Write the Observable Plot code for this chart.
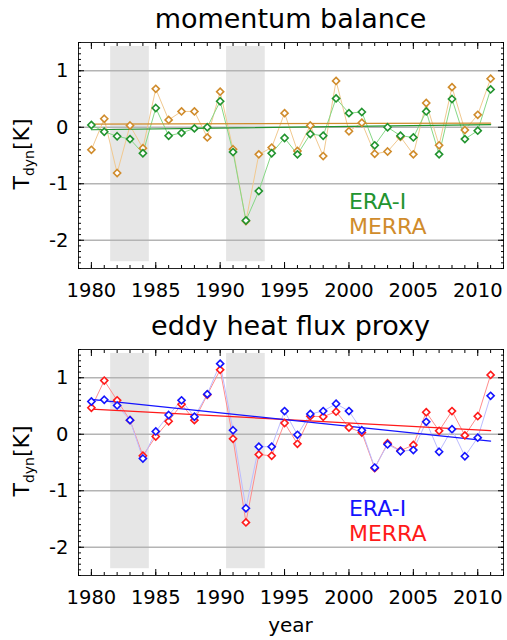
<!DOCTYPE html>
<html>
<head>
<meta charset="utf-8">
<script src="https://cdn.jsdelivr.net/npm/d3@7"></script>
<script src="https://cdn.jsdelivr.net/npm/@observablehq/plot@0.6"></script>
<style>
  html, body { margin: 0; padding: 0; background: #fff; }
  #chart { width: 507px; height: 640px; overflow: hidden; }
  #chart svg { display: block; }
</style>
</head>
<body>
<div id="chart"></div>
<script>
// ---- data ----
const years = [1980,1981,1982,1983,1984,1985,1986,1987,1988,1989,1990,1991,1992,1993,1994,1995,
               1996,1997,1998,1999,2000,2001,2002,2003,2004,2005,2006,2007,2008,2009,2010,2011];
const eraMomentum   = [0.04,-0.08,-0.16,-0.21,-0.46,0.34,-0.15,-0.10,-0.02,0.00,0.46,-0.44,-1.65,-1.13,-0.46,-0.19,
                       -0.48,-0.12,-0.15,0.51,0.25,0.27,-0.32,0.00,-0.15,-0.18,0.28,-0.48,0.50,-0.21,-0.06,0.67];
const merraMomentum = [-0.40,0.15,-0.81,0.03,-0.37,0.68,0.13,0.28,0.28,-0.18,0.63,-0.39,-1.66,-0.48,-0.36,0.25,
                       -0.42,0.03,-0.51,0.82,-0.07,0.08,-0.47,-0.43,-0.17,-0.48,0.43,-0.32,0.71,-0.05,0.22,0.86];
const eraHeat       = [0.58,0.61,0.51,0.25,-0.43,0.05,0.34,0.60,0.31,0.71,1.25,0.07,-1.31,-0.22,-0.22,0.41,
                       -0.01,0.36,0.41,0.54,0.41,0.07,-0.59,-0.18,-0.30,-0.28,0.22,-0.31,0.09,-0.39,-0.06,0.68];
const merraHeat     = [0.47,0.95,0.60,0.25,-0.38,-0.04,0.23,0.53,0.25,0.70,1.14,-0.08,-1.56,-0.36,-0.38,0.20,
                       -0.17,0.32,0.31,0.40,0.12,0.03,-0.60,-0.16,-0.29,-0.19,0.39,0.06,0.41,-0.02,0.32,1.05];
const volcanicStart = [1981.5, 1990.5];
const volcanicEnd   = [1984.5, 1993.5];
const yearTicks  = [1980,1985,1990,1995,2000,2005,2010];
const valueTicks = [-2,-1,0,1];
const seriesNames = ["ERA-I", "MERRA"];
const panelTitles = ["momentum balance", "eddy heat flux proxy"];

// ---- helpers ----
const rows = vals => years.map((year, i) => ({year, value: vals[i]}));
const shades = volcanicStart.map((s, i) => ({start: s, end: volcanicEnd[i]}));
const inVolcanic = y => shades.some(s => y > s.start && y < s.end);
const minorYears = d3.range(1979, 2013);
const minorValues = d3.range(-25, 16).map(k => k / 10);

function panel({era, merra, col, height, marginBottom, title, xlabel}) {
  const e = rows(era), m = rows(merra);
  const font = "'DejaVu Sans', sans-serif";
  const svg = Plot.plot({
    width: 507, height,
    marginLeft: 78, marginRight: 4, marginTop: 42, marginBottom,
    x: {domain: [1979, 2012], axis: null},
    y: {domain: [-2.5, 1.5], axis: null},
    style: {fontFamily: font, fontSize: "19.5px", color: "#000", background: "#fff"},
    marks: [
      Plot.rect(shades, {x1: "start", x2: "end", y1: -2.38, y2: 1.43, fill: "#e6e6e6"}),
      Plot.ruleY(valueTicks, {stroke: "#b4b4b4", strokeWidth: 1.3}),
      Plot.line(m, {x: "year", y: "value", stroke: col.merraLine, strokeWidth: 1}),
      Plot.line(e, {x: "year", y: "value", stroke: col.eraLine, strokeWidth: 1}),
      Plot.linearRegressionY(m.filter(d => !inVolcanic(d.year)), {x: "year", y: "value", stroke: col.merra, strokeWidth: 1.2, ci: 0}),
      Plot.linearRegressionY(e.filter(d => !inVolcanic(d.year)), {x: "year", y: "value", stroke: col.era, strokeWidth: 1.2, ci: 0}),
      Plot.dot(m, {x: "year", y: "value", symbol: "diamond2", r: 3.2, stroke: col.merra, strokeWidth: 1.6, fill: "#fff"}),
      Plot.dot(e, {x: "year", y: "value", symbol: "diamond2", r: 3.2, stroke: col.era, strokeWidth: 1.6, fill: "#fff"}),
      Plot.text([seriesNames[0]], {x: 2000, y: -1.455, text: d => d, fill: col.era, fontSize: 22, textAnchor: "start", lineAnchor: "bottom"}),
      Plot.text([seriesNames[1]], {x: 2000, y: -1.895, text: d => d, fill: col.merra, fontSize: 22, textAnchor: "start", lineAnchor: "bottom"}),
      Plot.frame({stroke: "#222", strokeWidth: 1}),
      // x axis labels and inward ticks (bottom and top)
      Plot.axisX({anchor: "bottom", ticks: yearTicks, tickSize: 0, tickPadding: 15, tickFormat: d => String(d), label: null}),
      Plot.axisX({anchor: "bottom", ticks: minorYears, tickSize: -3, fill: "none", label: null}),
      Plot.axisX({anchor: "bottom", ticks: yearTicks, tickSize: -6, fill: "none", label: null}),
      Plot.axisX({anchor: "top", ticks: minorYears, tickSize: -3, fill: "none", label: null}),
      Plot.axisX({anchor: "top", ticks: yearTicks, tickSize: -6, fill: "none", label: null}),
      // y axis labels and inward ticks (left and right)
      Plot.axisY({anchor: "left", ticks: valueTicks, tickSize: 0, tickPadding: 10, tickFormat: d => String(d), label: null}),
      Plot.axisY({anchor: "left", ticks: minorValues, tickSize: -3, fill: "none", label: null}),
      Plot.axisY({anchor: "left", ticks: valueTicks, tickSize: -6, fill: "none", label: null}),
      Plot.axisY({anchor: "right", ticks: minorValues, tickSize: -3, fill: "none", label: null}),
      Plot.axisY({anchor: "right", ticks: valueTicks, tickSize: -6, fill: "none", label: null})
    ]
  });
  const s = d3.select(svg);
  s.append("text")
    .attr("x", 290.5).attr("y", 28)
    .attr("text-anchor", "middle").attr("font-size", 27).attr("fill", "#000")
    .text(title);
  const yl = s.append("text")
    .attr("transform", "translate(29,154) rotate(-90)")
    .attr("text-anchor", "middle").attr("font-size", 22).attr("fill", "#000");
  yl.append("tspan").text("T");
  yl.append("tspan").attr("dy", 5).attr("font-size", 14).text("dyn");
  yl.append("tspan").attr("dy", -5).text("[K]");
  if (xlabel) {
    s.append("text")
      .attr("x", 290.5).attr("y", height - 8.5)
      .attr("text-anchor", "middle").attr("font-size", 20).attr("fill", "#000")
      .text(xlabel);
  }
  return svg;
}

const chart = document.getElementById("chart");
chart.appendChild(panel({
  era: eraMomentum, merra: merraMomentum,
  col: {era: "#22942f", eraLine: "#86d886", merra: "#d08c2c", merraLine: "#f1c990"},
  height: 307, marginBottom: 39, title: panelTitles[0]
}));
chart.appendChild(panel({
  era: eraHeat, merra: merraHeat,
  col: {era: "#1414ff", eraLine: "#bcbcff", merra: "#ff1a1a", merraLine: "#ff8c8c"},
  height: 333, marginBottom: 65, title: panelTitles[1], xlabel: "year"
}));
</script>
</body>
</html>
